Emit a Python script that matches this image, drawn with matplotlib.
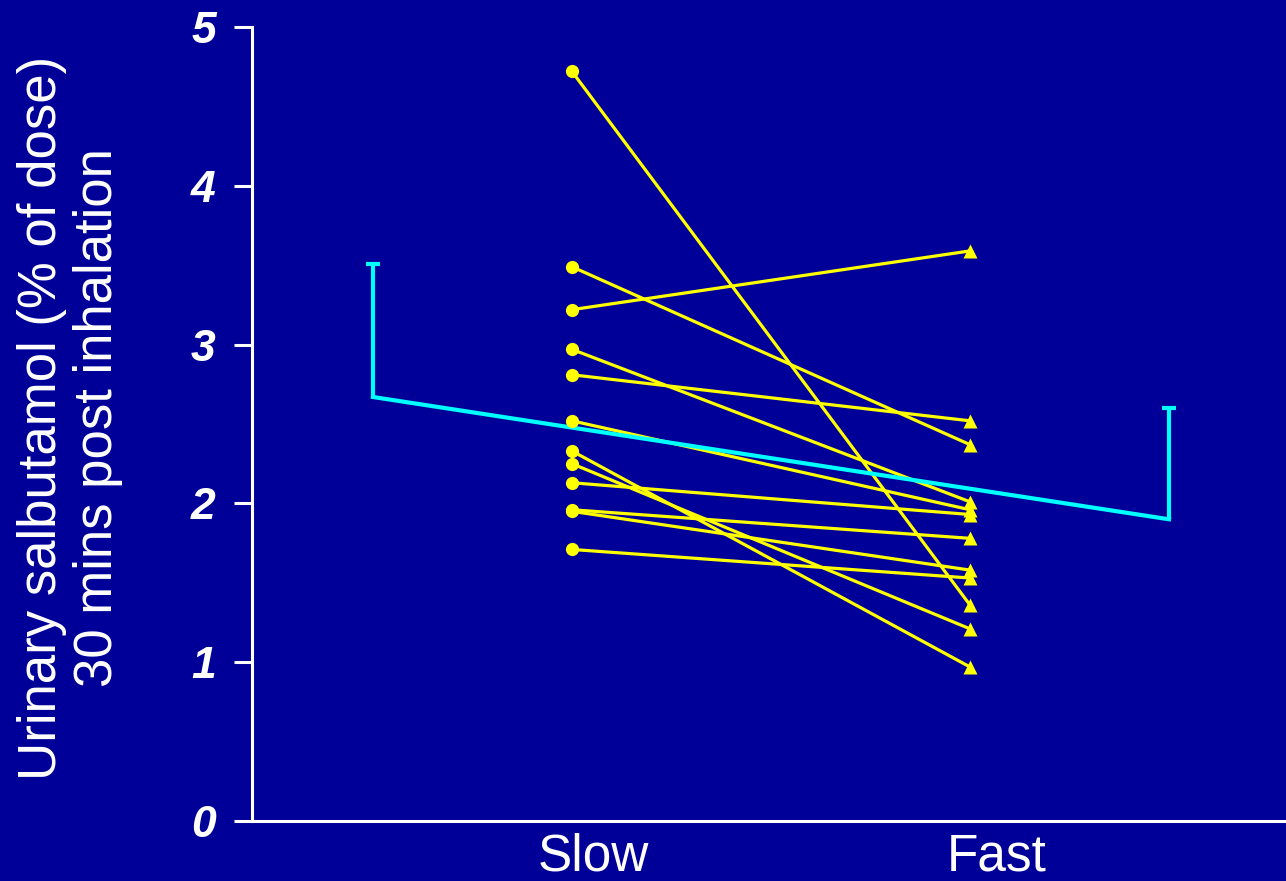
import matplotlib
matplotlib.use("Agg")
import matplotlib.pyplot as plt
import numpy as np

# Data
categories = ["Slow", "Fast"]
slow_values = [4.72, 3.49, 3.22, 2.97, 2.81, 2.52, 2.33, 2.25, 2.13, 1.96, 1.95, 1.71]
fast_values = [1.36, 2.37, 3.59, 2.01, 2.52, 1.96, 0.97, 1.21, 1.93, 1.78, 1.58, 1.53]
group_means = [2.67, 1.90]
group_sd = [0.84, 0.70]
y_ticks = [0, 1, 2, 3, 4, 5]

BG = "#000099"
YEL = "#FFFF00"
CYAN = "#00FFFF"
WHITE = "#FFFFFF"

plt.rcParams['font.family'] = ['Liberation Sans', 'DejaVu Sans']

fig = plt.figure(figsize=(12.86, 8.81), dpi=100, facecolor=BG)
ax = fig.add_axes([252/1286, 1 - 821/881, 1 - 252/1286, (821 - 27)/881])
ax.set_facecolor(BG)

x_slow, x_fast = 1.0, 2.0
x_mean = [0.5, 2.5]

# individual subject lines
for s, f in zip(slow_values, fast_values):
    ax.plot([x_slow, x_fast], [s, f], color=YEL, lw=2.3, zorder=2, solid_capstyle='round')
ax.plot([x_slow] * len(slow_values), slow_values, 'o', color=YEL, ms=9.5, zorder=4, mec='none')
ax.plot([x_fast] * len(fast_values), fast_values, '^', color=YEL, ms=9.5, zorder=4, mec='none')

# mean line with upper-only SD error bars
means = np.array(group_means)
tops = means + np.array(group_sd)
ax.plot(x_mean, group_means, color=CYAN, lw=3, zorder=3, solid_joinstyle='miter')
ax.vlines(x_mean, means, tops, colors=CYAN, lw=3, zorder=3)
ax.plot(x_mean, tops, '_', color=CYAN, ms=10.5, mew=3, zorder=3)

ax.set_xlim(0.196, 2.794)
ax.set_ylim(0, 5)

for side in ['top', 'right']:
    ax.spines[side].set_visible(False)
for side in ['left', 'bottom']:
    ax.spines[side].set_color(WHITE)
    ax.spines[side].set_linewidth(2.2)

ax.set_yticks(y_ticks)
ax.set_yticklabels([str(t) for t in y_ticks])
ax.tick_params(axis='y', direction='out', length=13, width=2.2, color=WHITE,
               labelcolor=WHITE, pad=13)
for lab in ax.get_yticklabels():
    lab.set_fontsize(32)
    lab.set_fontstyle('italic')
    lab.set_fontweight('bold')

ax.set_xticks([1.053, 2.068])
ax.set_xticklabels(categories, fontsize=37, color=WHITE)
ax.tick_params(axis='x', length=0, pad=8)

fig.text(70/1286, 1 - 418/881, "Urinary salbutamol (% of dose)\n30 mins post inhalation",
         rotation=90, ha='center', va='center', ma='center', fontsize=38,
         color=WHITE, linespacing=1.13)

fig.savefig("out.png", dpi=100, facecolor=BG)
